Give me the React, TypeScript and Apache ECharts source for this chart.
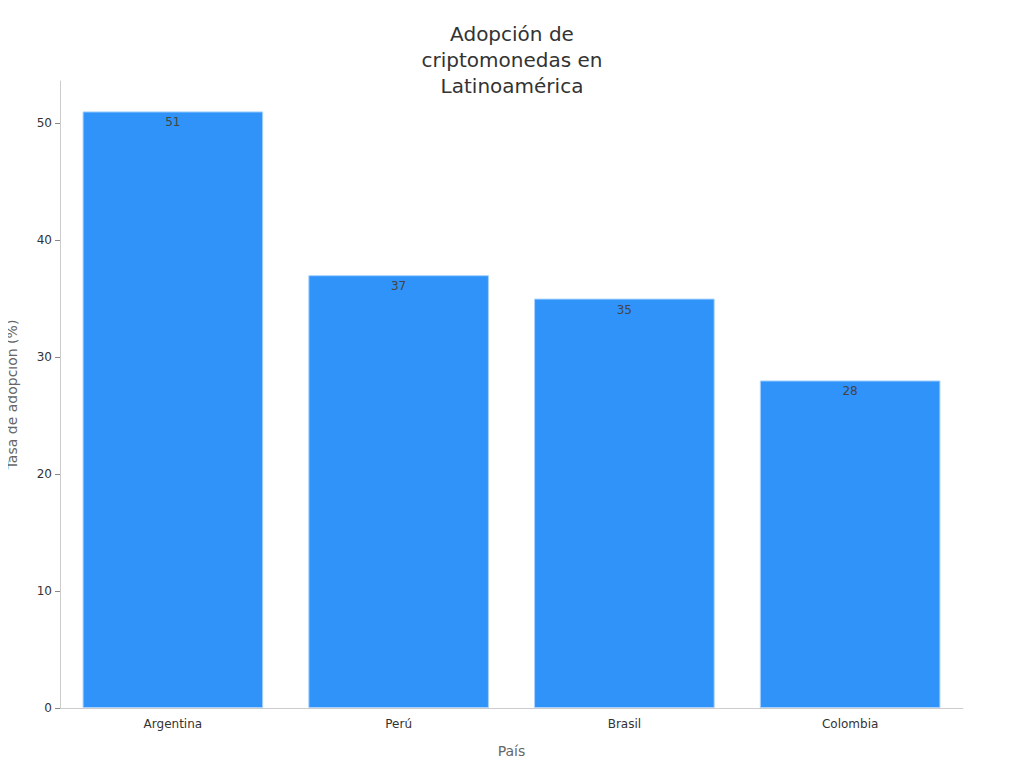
import React, { useEffect, useRef } from 'react';
import * as echarts from 'echarts';

const countries = ['Argentina', 'Perú', 'Brasil', 'Colombia'];
const adoption = [51, 37, 35, 28];
const yTicks = [0, 10, 20, 30, 40, 50];

const App = () => {
    const chartRef = useRef(null);

    useEffect(() => {
        const chartDom = chartRef.current;
        if (!chartDom) return;

        const myChart = echarts.init(chartDom, null, { renderer: 'svg' });
        const font = 'DejaVu Sans';

        const option = {
            animation: false,
            textStyle: { fontFamily: font },
            title: {
                text: 'Adopción de\ncriptomonedas en\nLatinoamérica',
                left: 'center',
                top: 16,
                textStyle: {
                    fontFamily: font,
                    fontSize: 20,
                    fontWeight: 'normal',
                    color: '#333',
                    lineHeight: 26,
                },
            },
            grid: { left: 60, right: 61, top: 81, bottom: 60, outerBoundsMode: 'none', containLabel: false },
            xAxis: {
                type: 'category',
                data: countries,
                name: 'País',
                nameLocation: 'middle',
                nameGap: 36,
                nameTextStyle: { color: '#666', fontSize: 14, fontFamily: font },
                axisLine: { lineStyle: { color: '#ccc' } },
                axisTick: { alignWithLabel: true, lineStyle: { color: '#888' } },
                axisLabel: { color: '#333', fontSize: 12, margin: 10, fontFamily: font },
            },
            yAxis: {
                type: 'value',
                min: 0,
                max: 53.6,
                interval: 10,
                name: 'Tasa de adopción (%)',
                nameLocation: 'middle',
                nameGap: 41,
                nameTextStyle: { color: '#666', fontSize: 14, fontFamily: font },
                axisLine: { show: true, lineStyle: { color: '#ccc' } },
                axisTick: { show: true, customValues: yTicks, lineStyle: { color: '#888' } },
                axisLabel: { color: '#333', fontSize: 12, customValues: yTicks, fontFamily: font },
                splitLine: { show: false },
            },
            series: [
                {
                    type: 'bar',
                    data: adoption,
                    barCategoryGap: '20%',
                    itemStyle: { color: '#2f93fa', borderColor: '#a8d2fd', borderWidth: 1 },
                    label: {
                        show: true,
                        position: 'insideTop',
                        distance: 5,
                        color: '#444',
                        fontSize: 12,
                        fontFamily: font,
                    },
                },
            ],
        };

        myChart.setOption(option);

        return () => {
            myChart.dispose();
        };
    }, []);

    return <div ref={chartRef} style={{ width: '1024px', height: '768px', margin: '-8px' }}></div>;
};

export default App;
